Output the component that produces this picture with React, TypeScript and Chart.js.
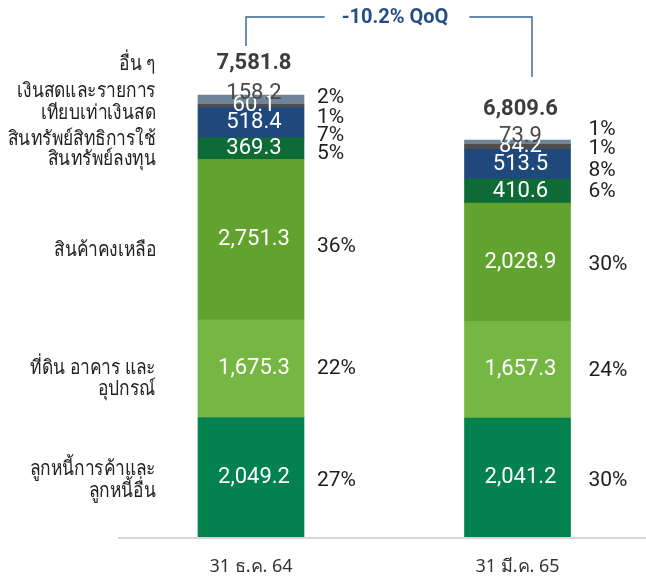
import React, { useEffect, useRef } from "react";
import { Chart, registerables } from "chart.js";
Chart.register(...registerables);

// ---- data ----
const categories = ["31 ธ.ค. 64", "31 มี.ค. 65"];
const seriesNames = [
  "ลูกหนี้การค้าและลูกหนี้อื่น",
  "ที่ดิน อาคาร และอุปกรณ์",
  "สินค้าคงเหลือ",
  "สินทรัพย์ลงทุน",
  "สินทรัพย์สิทธิการใช้",
  "เงินสดและรายการเทียบเท่าเงินสด",
  "อื่น ๆ",
];
const seriesNameLines = [
  ["ลูกหนี้การค้าและ", "ลูกหนี้อื่น"],
  ["ที่ดิน อาคาร และ", "อุปกรณ์"],
  ["สินค้าคงเหลือ"],
  ["สินทรัพย์ลงทุน"],
  ["สินทรัพย์สิทธิการใช้"],
  ["เงินสดและรายการ", "เทียบเท่าเงินสด"],
  ["อื่น ๆ"],
];
const receivables = [2049.2, 2041.2];
const ppe = [1675.3, 1657.3];
const inventory = [2751.3, 2028.9];
const investments = [369.3, 410.6];
const rightOfUse = [518.4, 513.5];
const cash = [60.1, 84.2];
const others = [158.2, 73.9];
const totals = [7581.8, 6809.6];

const receivablesPct = ["27%", "30%"];
const ppePct = ["22%", "24%"];
const inventoryPct = ["36%", "30%"];
const investmentsPct = ["5%", "6%"];
const rightOfUsePct = ["7%", "8%"];
const cashPct = ["1%", "1%"];
const othersPct = ["2%", "1%"];

const seriesValues = [receivables, ppe, inventory, investments, rightOfUse, cash, others];
const seriesPct = [receivablesPct, ppePct, inventoryPct, investmentsPct, rightOfUsePct, cashPct, othersPct];

// ---- styles ----
const colors = ["#03814f", "#76b743", "#62a22e", "#0e6b35", "#1f487c", "#4d4d4d", "#6e8499"];
const valueColors = ["#ffffff", "#ffffff", "#ffffff", "#ffffff", "#ffffff", "#ffffff", "#4a4a4a"];
const valueDy = [0, 0, 0, 0, 0, 0, -6];
const nameDy = [3, 10, 11, 11, 16, -3.5, -35.6];
const pctDy = [
  [2, 2],
  [-1, 0],
  [6, 2],
  [4, 0],
  [12, 6],
  [10.5, 1],
  [-3, -13],
];
const pctDx = [13, 18];
const widestNameWidth = 148; // target rendered width of the widest left label line

const NUM_FONT = "Roboto, 'DejaVu Sans', sans-serif";
const THAI_FONT = "'Noto Sans', Roboto, sans-serif";

const fmt = (v: number) =>
  v.toLocaleString("en-US", { minimumFractionDigits: 1, maximumFractionDigits: 1 });

const labelPlugin = {
  id: "customLabels",
  afterDatasetsDraw(chart: any) {
    const ctx = chart.ctx as CanvasRenderingContext2D;
    const area = chart.chartArea;
    ctx.save();

    const metas = seriesValues.map((_, i) => chart.getDatasetMeta(i));
    const bar = (d: number, j: number) => {
      const el = metas[d].data[j];
      return el.getProps(["x", "y", "base", "width"], true);
    };

    // baseline
    const b0 = bar(0, 0);
    ctx.strokeStyle = "#d6d6d6";
    ctx.lineWidth = 2;
    ctx.beginPath();
    ctx.moveTo(b0.x - 133, area.bottom + 1);
    ctx.lineTo(chart.width, area.bottom + 1);
    ctx.stroke();

    // values inside bars
    ctx.textAlign = "center";
    ctx.textBaseline = "middle";
    ctx.font = `22px ${NUM_FONT}`;
    for (let d = 0; d < seriesValues.length; d++) {
      for (let j = 0; j < categories.length; j++) {
        const p = bar(d, j);
        const cy = (p.y + p.base) / 2 + valueDy[d];
        ctx.fillStyle = valueColors[d];
        ctx.fillText(fmt(seriesValues[d][j]), p.x + 3, cy);
      }
    }

    // percentages
    ctx.textAlign = "left";
    ctx.font = `21px ${NUM_FONT}`;
    ctx.fillStyle = "#1e1e1e";
    for (let d = 0; d < seriesValues.length; d++) {
      for (let j = 0; j < categories.length; j++) {
        const p = bar(d, j);
        const cy = (p.y + p.base) / 2 + pctDy[d][j];
        ctx.fillText(seriesPct[d][j], p.x + p.width / 2 + pctDx[j], cy + 1);
      }
    }

    // totals
    ctx.textAlign = "center";
    ctx.font = `bold 22px ${NUM_FONT}`;
    ctx.fillStyle = "#3d3d3d";
    const tops: number[] = [];
    for (let j = 0; j < categories.length; j++) {
      const p = bar(seriesValues.length - 1, j);
      tops.push(p.y);
      ctx.fillText(fmt(totals[j]), p.x + 3, p.y - 31);
    }

    // series names at left (horizontally condensed to match the narrow Thai face)
    ctx.font = `20px ${THAI_FONT}`;
    ctx.fillStyle = "#222222";
    let maxW = 0;
    seriesNameLines.forEach((ls) => ls.forEach((l) => (maxW = Math.max(maxW, ctx.measureText(l).width))));
    const sx = Math.min(1, widestNameWidth / maxW);
    ctx.textAlign = "right";
    for (let d = 0; d < seriesValues.length; d++) {
      const p = bar(d, 0);
      const cy = (p.y + p.base) / 2 + nameDy[d];
      const lines = seriesNameLines[d];
      const lh = 21.5;
      const rightX = p.x - p.width / 2 - 42;
      lines.forEach((ln, k) => {
        const y = cy + (k - (lines.length - 1) / 2) * lh;
        ctx.save();
        ctx.translate(rightX, y);
        ctx.scale(sx, 1);
        ctx.fillText(ln, 0, 0);
        ctx.restore();
      });
    }

    // QoQ bracket
    const lx = bar(seriesValues.length - 1, 0).x - 5;
    const rx = bar(seriesValues.length - 1, 1).x + 14.5;
    const by = 17;
    const change = (totals[1] / totals[0] - 1) * 100;
    const txt = `${change.toFixed(1)}% QoQ`;
    ctx.font = `bold 20px ${NUM_FONT}`;
    const tw = ctx.measureText(txt).width;
    const tc = (lx + rx) / 2 + 6;
    ctx.strokeStyle = "#35608f";
    ctx.lineWidth = 1.4;
    ctx.beginPath();
    ctx.moveTo(lx, tops[0] - 49);
    ctx.lineTo(lx, by);
    ctx.lineTo(tc - tw / 2 - 17, by);
    ctx.moveTo(tc + tw / 2 + 21, by);
    ctx.lineTo(rx, by);
    ctx.lineTo(rx, tops[1] - 63);
    ctx.stroke();
    ctx.fillStyle = "#234f86";
    ctx.textAlign = "center";
    ctx.fillText(txt, tc, by + 1);

    ctx.restore();
  },
};

export default function App() {
  const canvasRef = useRef<HTMLCanvasElement | null>(null);

  useEffect(() => {
    document.body.style.margin = "0";
    const canvas = canvasRef.current;
    if (!canvas) return;
    const chart = new Chart(canvas, {
      type: "bar",
      data: {
        labels: categories,
        datasets: seriesValues.map((vals, i) => ({
          label: seriesNames[i],
          data: vals,
          backgroundColor: colors[i],
          borderWidth: 0,
          barThickness: 106,
          clip: false as any,
        })),
      },
      options: {
        responsive: false,
        animation: false,
        devicePixelRatio: 1,
        layout: { padding: { left: 251, right: 128.5, top: 0, bottom: 0 } },
        plugins: {
          legend: { display: false },
          tooltip: { enabled: false },
        },
        scales: {
          x: {
            stacked: true,
            offset: false,
            grid: { display: false, drawTicks: false },
            border: { display: false },
            ticks: {
              color: "#333333",
              font: { size: 18, family: THAI_FONT },
              padding: 19,
              maxRotation: 0,
            },
            afterFit: (scale: any) => {
              scale.height = 44;
            },
          },
          y: {
            stacked: true,
            display: false,
            min: 0,
            max: 9211,
          },
        },
      },
      plugins: [labelPlugin],
    });
    return () => chart.destroy();
  }, []);

  return (
    <div style={{ width: 646, height: 581, position: "relative" }}>
      <canvas ref={canvasRef} width={646} height={581} style={{ display: "block" }} />
    </div>
  );
}
